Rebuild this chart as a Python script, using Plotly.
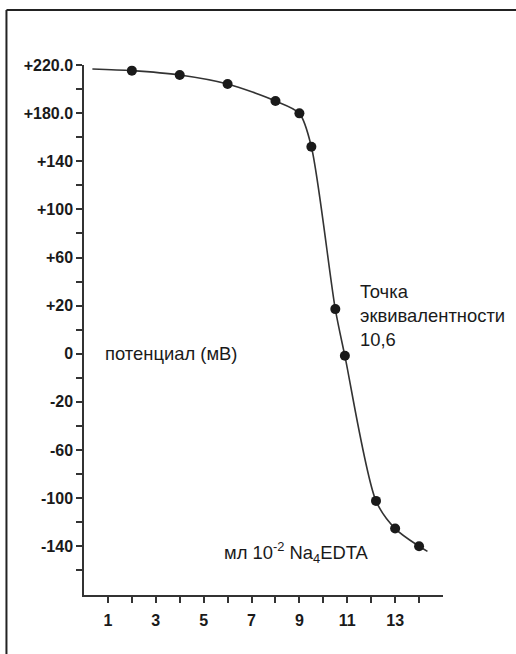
import plotly.graph_objects as go

# titrant volume (ml) and potential (in axis position units)
vol = [2, 4, 6, 8, 9, 9.5, 10.5, 10.9, 12.2, 13, 14]
pot = [215.3, 211.7, 204.2, 190.1, 179.8, 152.1, 17.1, -21.7, -142.3, -165.3, -180.0]
# curve extends a little beyond the measured points
curve_x = [0.35] + vol + [14.35]
curve_y = [216.7] + pot + [-184.2]

ytick_pos = [220, 180, 140, 100, 60, 20, -20, -60, -100, -140, -180]
ytick_txt = ["+220.0", "+180.0", "+140", "+100", "+60", "+20", "0", "-20", "-60", "-100", "-140"]
yminor_pos = [200, 160, 120, 80, 40, 0, -40, -80, -120, -160, -200]
xtick_pos = [1, 3, 5, 7, 9, 11, 13]
xminor_pos = [2, 4, 6, 8, 10, 12, 14]

fig = go.Figure()
fig.add_trace(go.Scatter(x=curve_x, y=curve_y, mode="lines",
                         line=dict(color="#333333", width=1.6, shape="spline", smoothing=0.8),
                         hoverinfo="skip", showlegend=False))
fig.add_trace(go.Scatter(x=vol, y=pot, mode="markers",
                         marker=dict(color="#1a1a1a", size=10),
                         showlegend=False))

axfont = dict(family="Liberation Sans, Arial, sans-serif", size=16, color="#1a1a1a", weight="bold")
fig.update_layout(
    width=516, height=654,
    margin=dict(l=84, r=73, t=65, b=59),
    paper_bgcolor="white", plot_bgcolor="white",
    xaxis=dict(range=[0, 15], showgrid=False, zeroline=False,
               showline=True, linecolor="#333333", linewidth=1.5,
               ticks="outside", ticklen=6, tickwidth=1.5, tickcolor="#333333",
               tickmode="array", tickvals=xtick_pos, ticktext=[str(v) for v in xtick_pos],
               tickfont=axfont, ticklabelstandoff=4,
               minor=dict(tickmode="array", tickvals=xminor_pos, ticks="outside",
                          ticklen=6, tickwidth=1.5, tickcolor="#333333", showgrid=False)),
    yaxis=dict(range=[-220.5, 220], showgrid=False, zeroline=False,
               showline=True, linecolor="#333333", linewidth=1.5,
               ticks="outside", ticklen=6, tickwidth=1.5, tickcolor="#333333",
               tickmode="array", tickvals=ytick_pos, ticktext=ytick_txt,
               tickfont=axfont,
               minor=dict(tickmode="array", tickvals=yminor_pos, ticks="outside",
                          ticklen=6, tickwidth=1.5, tickcolor="#333333", showgrid=False)),
    font=dict(family="Liberation Sans, Arial, sans-serif", color="#1a1a1a"),
)

annfont = dict(family="Liberation Sans, Arial, sans-serif", size=18.4, color="#1a1a1a")
fig.add_annotation(x=0.8, y=-20, text="потенциал (мВ)", showarrow=False,
                   xanchor="left", yanchor="middle", font=annfont)
fig.add_annotation(x=11.43, y=12, text="Точка<br>эквивалентности<br>10,6", showarrow=False,
                   xanchor="left", yanchor="middle", align="left", font=annfont)
fig.add_annotation(x=5.76, y=-185, text="мл 10<sup>-2</sup> Na<sub>4</sub>EDTA", showarrow=False,
                   xanchor="left", yanchor="middle", font=annfont)

# page border lines (top and left)
fig.add_shape(type="line", xref="paper", yref="paper", x0=-0.216, x1=1.21, y0=1.1038, y1=1.1038,
              line=dict(color="#222222", width=2))
fig.add_shape(type="line", xref="paper", yref="paper", x0=-0.216, x1=-0.216, y0=1.1038, y1=-0.12,
              line=dict(color="#222222", width=2))

fig.write_html("out.html")
